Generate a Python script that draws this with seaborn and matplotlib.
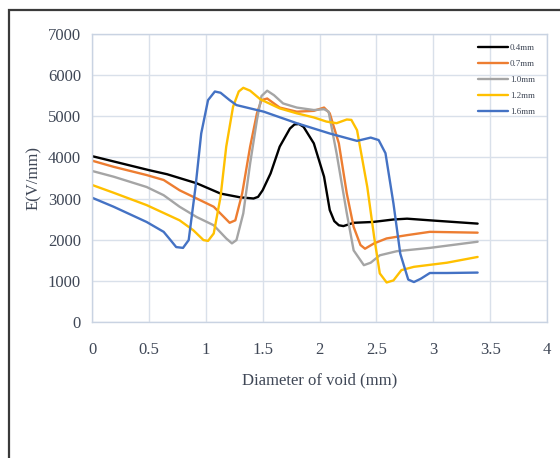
import matplotlib
matplotlib.use("Agg")
import matplotlib.pyplot as plt
import seaborn as sns
import pandas as pd
from matplotlib.patches import Rectangle

# ---- data ----
series_names = ["0.4mm", "0.7mm", "1.0mm", "1.2mm", "1.6mm"]

x_04 = [0, 0.5, 0.66, 0.92, 1.13, 1.30, 1.42, 1.46, 1.50, 1.57, 1.65, 1.74, 1.78, 1.82, 1.86, 1.95, 2.04, 2.09, 2.13, 2.17, 2.21, 2.30, 2.47, 2.65, 2.77, 2.97, 3.18, 3.39]
y_04 = [4030, 3690, 3590, 3370, 3120, 3030, 3000, 3040, 3200, 3610, 4260, 4700, 4800, 4810, 4740, 4340, 3530, 2720, 2450, 2350, 2330, 2410, 2430, 2490, 2510, 2470, 2430, 2390]

x_07 = [0, 0.19, 0.48, 0.63, 0.77, 0.92, 1.07, 1.16, 1.21, 1.26, 1.32, 1.39, 1.45, 1.49, 1.54, 1.65, 1.80, 1.95, 2.04, 2.09, 2.17, 2.24, 2.30, 2.36, 2.40, 2.48, 2.59, 2.77, 2.97, 3.39]
y_07 = [3920, 3770, 3570, 3450, 3200, 3000, 2800, 2550, 2410, 2470, 3120, 4260, 5070, 5390, 5430, 5210, 5110, 5130, 5210, 5070, 4340, 3120, 2310, 1870, 1780, 1910, 2030, 2110, 2190, 2170]

x_10 = [0, 0.19, 0.48, 0.63, 0.77, 0.92, 1.07, 1.18, 1.23, 1.27, 1.33, 1.39, 1.45, 1.49, 1.54, 1.60, 1.68, 1.80, 1.95, 2.04, 2.08, 2.15, 2.24, 2.30, 2.39, 2.45, 2.53, 2.68, 2.97, 3.39]
y_10 = [3670, 3530, 3280, 3080, 2800, 2550, 2350, 2030, 1910, 1990, 2640, 3850, 4910, 5490, 5620, 5510, 5310, 5210, 5150, 5170, 5110, 4100, 2640, 1740, 1380, 1440, 1620, 1720, 1800, 1950]

x_12 = [0, 0.19, 0.48, 0.77, 0.89, 0.98, 1.02, 1.07, 1.13, 1.18, 1.24, 1.29, 1.33, 1.39, 1.48, 1.65, 1.80, 1.95, 2.06, 2.15, 2.24, 2.28, 2.33, 2.42, 2.48, 2.53, 2.59, 2.65, 2.72, 2.83, 3.12, 3.39]
y_12 = [3330, 3140, 2840, 2470, 2230, 1990, 1970, 2150, 3040, 4260, 5230, 5600, 5690, 5620, 5410, 5190, 5070, 4970, 4870, 4830, 4920, 4910, 4660, 3280, 2070, 1180, 960, 1010, 1260, 1340, 1440, 1580]

x_16 = [0, 0.19, 0.48, 0.63, 0.69, 0.74, 0.80, 0.85, 0.91, 0.96, 1.02, 1.08, 1.13, 1.21, 1.27, 1.51, 1.80, 2.09, 2.33, 2.45, 2.52, 2.58, 2.65, 2.71, 2.78, 2.83, 2.89, 2.97, 3.12, 3.39]
y_16 = [3020, 2800, 2430, 2190, 1990, 1820, 1800, 1990, 3280, 4580, 5390, 5600, 5570, 5390, 5270, 5110, 4830, 4580, 4400, 4480, 4420, 4100, 2880, 1660, 1030, 970, 1050, 1190, 1190, 1200]

x_ticks = [0, 0.5, 1, 1.5, 2, 2.5, 3, 3.5, 4]
x_tick_labels = ["0", "0.5", "1", "1.5", "2", "2.5", "3", "3.5", "4"]
y_ticks = [0, 1000, 2000, 3000, 4000, 5000, 6000, 7000]

colors = ["#000000", "#ED7D31", "#A5A5A5", "#FFC000", "#4472C4"]

frames = []
for name, xs, ys in zip(series_names, [x_04, x_07, x_10, x_12, x_16], [y_04, y_07, y_10, y_12, y_16]):
    frames.append(pd.DataFrame({"x": xs, "y": ys, "series": name}))
df = pd.concat(frames, ignore_index=True)

sns.set_style("white")
plt.rcParams["font.family"] = ["Liberation Serif", "DejaVu Serif"]

fig = plt.figure(figsize=(5.6, 4.58), dpi=100)
ax = fig.add_axes([0.1643, 0.297, 0.8125, 0.629])

sns.lineplot(data=df, x="x", y="y", hue="series", hue_order=series_names,
             palette=dict(zip(series_names, colors)), estimator=None, sort=False,
             linewidth=1.7, ax=ax)

ax.set_xlim(0, 4)
ax.set_ylim(0, 7000)
ax.set_xticks(x_ticks)
ax.set_xticklabels(x_tick_labels)
ax.set_yticks(y_ticks)
ax.grid(True, color="#D9E0EA", linewidth=1.0)
ax.set_axisbelow(True)
for s in ax.spines.values():
    s.set_color("#C9D3E2")
    s.set_linewidth(1.0)

text_color = "#3F4756"
ax.tick_params(axis="both", length=0, labelsize=12, colors=text_color)
ax.tick_params(axis="y", pad=8)
ax.tick_params(axis="x", pad=14.5)
ax.set_xlabel("Diameter of void (mm)", fontsize=12, color=text_color, labelpad=10)
ax.set_ylabel("E(V/mm)", fontsize=12, color=text_color, labelpad=4)

leg = ax.legend(loc="upper right", bbox_to_anchor=(0.985, 0.985), frameon=False,
                fontsize=6.5, handlelength=3.4, handletextpad=0.15, labelspacing=0.85,
                borderaxespad=0.2)
for t in leg.get_texts():
    t.set_color(text_color)
for h in leg.get_lines():
    h.set_linewidth(1.7)

# outer frame
fig.patches.append(Rectangle((9 / 560, -0.1), 1.2, 1.1 - 10 / 458,
                             transform=fig.transFigure, fill=False,
                             edgecolor="#3A3A3A", linewidth=1.6))

fig.savefig("out.png", dpi=100)
